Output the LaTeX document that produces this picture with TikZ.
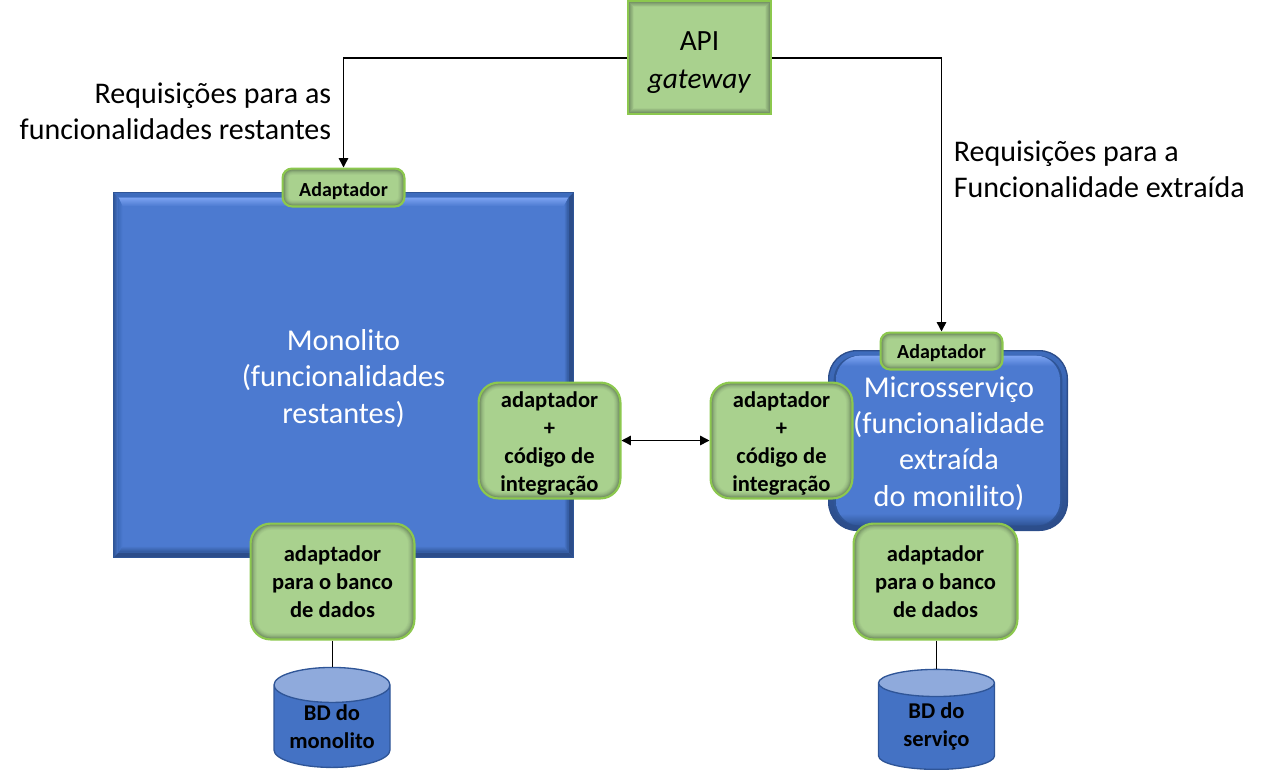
\documentclass[tikz,border=0pt]{standalone}
\usepackage{fontspec}
\setmainfont{Carlito}
\usetikzlibrary{arrows.meta,shapes.geometric,calc}
\definecolor{gfill}{HTML}{A9D18E}
\definecolor{gedge}{HTML}{8CC84E}
\definecolor{gdark}{HTML}{4F6448}
\definecolor{bfill}{HTML}{4C7AD0}
\definecolor{bdark}{HTML}{2F5597}
\definecolor{blight}{HTML}{7CA3F2}
\definecolor{bshade}{HTML}{3E6CBD}
\definecolor{bdeep}{HTML}{2C4D8A}
\definecolor{cylbody}{HTML}{4472C4}
\definecolor{cyltop}{HTML}{8FAADC}
\definecolor{cyledge}{HTML}{2F5597}
\pgfdeclareverticalshading{microin}{100bp}{color(0bp)=(bdark); color(25bp)=(bdark); color(28.5bp)=(bfill); color(72bp)=(bfill); color(75bp)=(blight); color(100bp)=(blight)}
\newcommand{\topstrut}[1]{\rule{0pt}{#1}}
\tikzset{
  x=0.75pt,y=-0.75pt,
  glowbox/.style args={#1/#2/#3}{
    shape=rectangle,draw=gedge,fill=gfill,line width=1.6pt,
    rounded corners=#3,inner sep=0pt,align=center,
    minimum width=#1*0.75pt-1.6pt,minimum height=#2*0.75pt-1.6pt,
    path picture={
      \foreach \d/\m in {6/6,5/12,4/20,3/30,2/42,1/56}{
        \draw[line width=1.6pt+\d*1.3pt,draw=gdark!\m!gfill,rounded corners=#3]
          (path picture bounding box.south west) rectangle (path picture bounding box.north east);
      }
    }},
  adaptext/.style={font=\bfseries\fontsize{16.9}{21}\selectfont,text=black},
  smalltext/.style={font=\bfseries\fontsize{15}{16}\selectfont,text=black},
  whitetext/.style={font=\fontsize{22.7}{27.2}\selectfont,text=white,align=center},
  labeltext/.style={font=\fontsize{22.5}{27}\selectfont,text=black,inner sep=0pt},
  monobox/.style={
    shape=rectangle,fill=bfill,draw=bdark,line width=0.75pt,inner sep=0pt,
    minimum width=460*0.75pt,minimum height=365*0.75pt,
    path picture={
      \coordinate (NW) at (path picture bounding box.north west);
      \coordinate (NE) at (path picture bounding box.north east);
      \coordinate (SW) at (path picture bounding box.south west);
      \coordinate (SE) at (path picture bounding box.south east);
      \def\b{3.75pt}
      % outer frame
      \fill[bshade] (NW) -- (NE) -- ($(NE)+(-\b,-\b)$) -- ($(NW)+(\b,-\b)$) -- cycle;
      \shade[left color=bdark,right color=bfill] (NW) -- (SW) -- ($(SW)+(\b,\b)$) -- ($(NW)+(\b,-\b)$) -- cycle;
      \fill[bdeep] (NE) -- (SE) -- ($(SE)+(-\b,\b)$) -- ($(NE)+(-\b,-\b)$) -- cycle;
      \fill[bdeep] (SW) -- (SE) -- ($(SE)+(-\b,\b)$) -- ($(SW)+(\b,\b)$) -- cycle;
      % inner bevel
      \coordinate (nw) at ($(NW)+(\b,-\b)$);
      \coordinate (ne) at ($(NE)+(-\b,-\b)$);
      \coordinate (sw) at ($(SW)+(\b,\b)$);
      \coordinate (se) at ($(SE)+(-\b,\b)$);
      \shade[top color=blight,bottom color=bfill] (nw) -- (ne) -- ($(ne)+(-3.5pt,-6.5pt)$) -- ($(nw)+(3pt,-6.5pt)$) -- cycle;
      \shade[top color=bfill,bottom color=bdark] (sw) -- (se) -- ($(se)+(-3.5pt,5pt)$) -- ($(sw)+(3pt,5pt)$) -- cycle;
      \shade[left color=bshade,right color=bfill] (nw) -- (sw) -- ($(sw)+(3pt,5pt)$) -- ($(nw)+(3pt,-6.5pt)$) -- cycle;
      \shade[left color=bfill,right color=bdark] (ne) -- (se) -- ($(se)+(-3.5pt,5pt)$) -- ($(ne)+(-3.5pt,-6.5pt)$) -- cycle;
    }},
  microbox/.style={
    shape=rectangle,draw=bdeep,line width=1pt,rounded corners=21pt,inner sep=0pt,
    top color=bshade,bottom color=bdeep,
    minimum width=240*0.75pt-1pt,minimum height=181*0.75pt-1pt,
    path picture={
      \fill[bdark,rounded corners=18pt]
        ($(path picture bounding box.south west)+(3.75pt,3.75pt)$) rectangle
        ($(path picture bounding box.north east)+(-3.75pt,-3.75pt)$);
      \shade[shading=microin,rounded corners=18pt]
        ($(path picture bounding box.south west)+(5.5pt,3.75pt)$) rectangle
        ($(path picture bounding box.north east)+(-5.5pt,-3.75pt)$);
    }},
  dbcyl/.style={
    shape=cylinder,shape border rotate=90,aspect=0.41,draw=cyledge,line width=1pt,
    cylinder uses custom fill,cylinder body fill=cylbody,cylinder end fill=cyltop,
    minimum width=116*0.75pt,minimum height=100*0.75pt,inner sep=0pt,outer sep=0pt,
    align=center,font=\bfseries\fontsize{16.9}{21}\selectfont,text=black},
  conn/.style={draw=black,line width=1.1pt},
  thinconn/.style={draw=black,line width=0.7pt},
  tip/.style={-{Triangle[length=7pt,width=7pt]}},
  tips/.style={{Triangle[length=7pt,width=7pt]}-{Triangle[length=7pt,width=7pt]}},
}
\begin{document}
\begin{tikzpicture}
\useasboundingbox (0,0) rectangle (1263,769);
% large containers
\node[monobox] (mono) at (343.5,375) {};
\node[microbox] (micro) at (948,440.5) {};
\node[whitetext] (monotext) at (343.5,378.5) {Monolito\\(funcionalidades\\restantes)};
\node[whitetext] (microtext) at (949,443.5) {Microsserviço\\(funcionalidade\\extraída\\do monilito)};
% gateway
\node[glowbox=145/115/0pt,font=\fontsize{22}{28}\selectfont] (api) at (699.5,57.5) {\topstrut{21.7pt}API\\\textit{gateway}};
% adapters
\node[glowbox=124/40/7pt,smalltext] (adL) at (343.5,187.5) {\topstrut{15.3pt}Adaptador};
\node[glowbox=124/39/7pt,smalltext] (adR) at (941.5,351) {\topstrut{13.8pt}Adaptador};
\node[glowbox=144/118/15pt,adaptext] (intL) at (549.5,440.5) {\topstrut{16pt}adaptador\\+\\código de\\integração};
\node[glowbox=144/118/15pt,adaptext] (intR) at (781.5,440.5) {\topstrut{16pt}adaptador\\+\\código de\\integração};
\node[glowbox=166/118/15pt,adaptext] (dbaL) at (332.5,581.5) {\topstrut{12.7pt}adaptador\\para o banco\\de dados};
\node[glowbox=166/118/15pt,adaptext] (dbaR) at (935.5,581.5) {\topstrut{12.7pt}adaptador\\para o banco\\de dados};
% databases
\node[dbcyl] (dbL) at (332,726.5) {BD do\\monolito};
\node[dbcyl] (dbR) at (936.5,726.5) {BD do\\serviço};
% labels
\node[labeltext,anchor=east,align=right] (reqL) at (331.5,111) {Requisições para as\\funcionalidades restantes};
\node[labeltext,anchor=west,align=left] (reqR) at (953.5,169) {Requisições para a\\Funcionalidade extraída};
% connectors
\draw[conn,tip] (api.west |- 0,58) -| (adL.north);
\draw[conn,tip] (api.east |- 0,58) -| (adR.north);
\draw[conn,tips] (intL.east) -- (intR.west);
\draw[thinconn] (dbL.north |- dbaL.south) -- (dbL.north);
\draw[thinconn] (dbR.north |- dbaR.south) -- (dbR.north);
\end{tikzpicture}
\end{document}
